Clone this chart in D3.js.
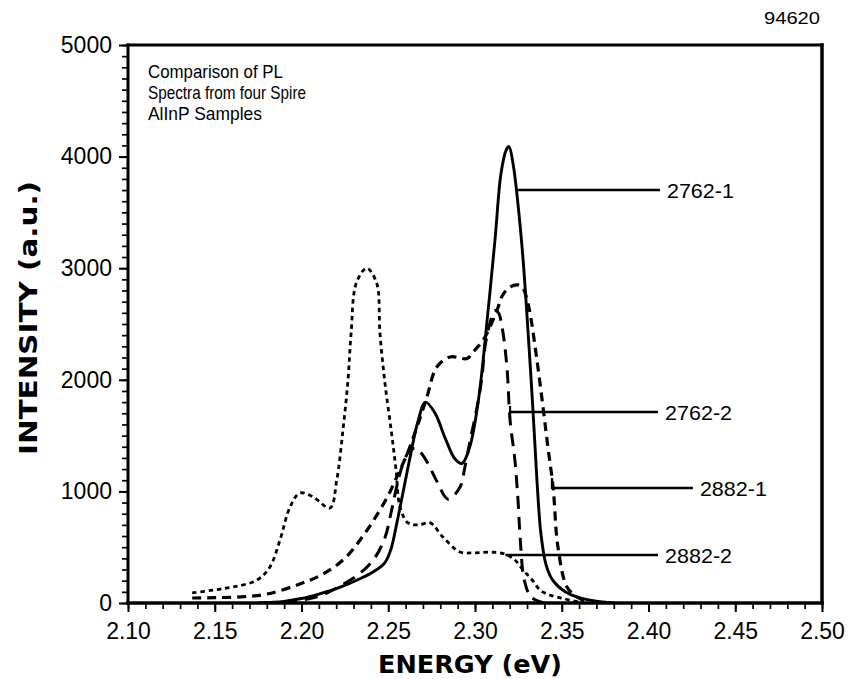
<!DOCTYPE html>
<html><head><meta charset="utf-8">
<script src="https://cdn.jsdelivr.net/npm/d3@7"></script>
<style>body{margin:0;background:#fff}</style>
</head><body>
<svg id="chart" width="851" height="679"></svg>
<script>
// ---------- data ----------
const xTickValues = [2.10, 2.15, 2.20, 2.25, 2.30, 2.35, 2.40, 2.45, 2.50];
const yTickValues = [0, 1000, 2000, 3000, 4000, 5000];

// 2762-1 (solid)
const s27621E = [2.175, 2.19, 2.20, 2.21, 2.222, 2.234, 2.242, 2.248, 2.2515, 2.255, 2.2585, 2.2625, 2.267, 2.2715, 2.277, 2.283, 2.2885, 2.2925, 2.297, 2.302, 2.307, 2.3115, 2.315, 2.318, 2.3196, 2.322, 2.3248, 2.3277, 2.3305, 2.3334, 2.3357, 2.338, 2.341, 2.345, 2.352, 2.3605, 2.369, 2.38];
const s27621I = [0, 15, 40, 80, 140, 220, 285, 360, 480, 720, 990, 1300, 1620, 1800, 1700, 1470, 1290, 1250, 1400, 1820, 2535, 3250, 3850, 4060, 4090, 3930, 3570, 3080, 2450, 1730, 1100, 620, 340, 200, 100, 45, 18, 0];

// 2762-2 (long dash)
const s27622E = [2.19, 2.21, 2.222, 2.234, 2.242, 2.248, 2.2515, 2.255, 2.2585, 2.262, 2.265, 2.268, 2.2725, 2.278, 2.2845, 2.2914, 2.2942, 2.2975, 2.3012, 2.304, 2.3058, 2.309, 2.3115, 2.3135, 2.3156, 2.3184, 2.3202, 2.323, 2.3248, 2.326, 2.3285, 2.3325, 2.34];
const s27622I = [0, 60, 150, 270, 400, 580, 800, 1050, 1250, 1360, 1385, 1360, 1260, 1090, 930, 1040, 1220, 1480, 1755, 2025, 2300, 2530, 2620, 2600, 2473, 2115, 1640, 1280, 920, 590, 200, 50, 0];

// 2882-1 (medium dash)
const s28821E = [2.137, 2.15, 2.165, 2.18, 2.199, 2.2125, 2.225, 2.2345, 2.2415, 2.2495, 2.255, 2.261, 2.2666, 2.272, 2.278, 2.2856, 2.2914, 2.2954, 2.30, 2.3058, 2.3127, 2.316, 2.32, 2.3248, 2.3277, 2.33, 2.3317, 2.3357, 2.3392, 2.342, 2.345, 2.3478, 2.353, 2.3588, 2.366];
const s28821I = [45, 48, 55, 80, 170, 260, 400, 580, 740, 950, 1130, 1340, 1580, 1830, 2115, 2205, 2195, 2190, 2267, 2383, 2625, 2760, 2830, 2850, 2820, 2715, 2600, 2177, 1756, 1398, 1040, 502, 143, 54, 0];

// 2882-2 (dotted)
const s28822E = [2.137, 2.149, 2.1605, 2.1744, 2.1818, 2.1876, 2.1934, 2.199, 2.2066, 2.2164, 2.2203, 2.2239, 2.2268, 2.2286, 2.2316, 2.2376, 2.2433, 2.2452, 2.2481, 2.2519, 2.2545, 2.2568, 2.2614, 2.268, 2.274, 2.2816, 2.2914, 2.300, 2.310, 2.317, 2.323, 2.3277, 2.333, 2.3375, 2.343, 2.352, 2.362];
const s28822I = [90, 116, 143, 206, 323, 565, 860, 985, 952, 851, 1100, 1550, 2000, 2419, 2867, 3000, 2867, 2419, 1971, 1523, 1190, 860, 717, 700, 720, 590, 457, 450, 455, 440, 385, 296, 206, 116, 72, 36, 0];

const seriesNames = ["2762-1", "2762-2", "2882-1", "2882-2"];
const leaderStartE = [2.3242, 2.3202, 2.3444, 2.3175];
const leaderI = [3700, 1711, 1030, 430];
const leaderEndE = [2.4066, 2.4055, 2.4256, 2.4055];

const noteLines = ["Comparison of PL", "Spectra from four Spire", "AlInP Samples"];
const figureId = "94620";
const xTitle = "ENERGY (eV)";
const yTitle = "INTENSITY (a.u.)";

// ---------- chart ----------
const svg = d3.select("#chart");
const L = 128, R = 822, T = 45, B = 603;
const x = d3.scaleLinear().domain([2.10, 2.50]).range([L, R]);
const y = d3.scaleLinear().domain([0, 5000]).range([B, T]);
const labelFont = "'Liberation Sans', Arial, sans-serif";

svg.append("defs").append("clipPath").attr("id", "clip")
  .append("rect").attr("x", L).attr("y", T).attr("width", R - L).attr("height", B - T);

// minor ticks
const xMinor = d3.range(0, 41).map(i => 2.10 + i * 0.01);
const yMinor = d3.range(0, 51).map(i => i * 100);

svg.append("g").attr("transform", `translate(0,${B})`)
  .call(d3.axisBottom(x).tickValues(xMinor).tickSize(6).tickFormat(""))
  .call(g => g.select(".domain").remove())
  .call(g => g.selectAll("line").attr("stroke", "#000").attr("stroke-width", 1.7));
svg.append("g").attr("transform", `translate(${L},0)`)
  .call(d3.axisLeft(y).tickValues(yMinor).tickSize(6).tickFormat(""))
  .call(g => g.select(".domain").remove())
  .call(g => g.selectAll("line").attr("stroke", "#000").attr("stroke-width", 1.7));

// major ticks + labels
svg.append("g").attr("transform", `translate(0,${B})`)
  .call(d3.axisBottom(x).tickValues(xTickValues).tickSize(9).tickPadding(11).tickFormat(d3.format(".2f")))
  .call(g => g.select(".domain").remove())
  .call(g => g.selectAll("line").attr("stroke", "#000").attr("stroke-width", 2))
  .call(g => g.selectAll("text").attr("fill", "#000").attr("font-family", labelFont).attr("font-size", 23));
svg.append("g").attr("transform", `translate(${L},0)`)
  .call(d3.axisLeft(y).tickValues(yTickValues).tickSize(9).tickPadding(7).tickFormat(d3.format("d")))
  .call(g => g.select(".domain").remove())
  .call(g => g.selectAll("line").attr("stroke", "#000").attr("stroke-width", 2))
  .call(g => g.selectAll("text").attr("fill", "#000").attr("font-family", labelFont).attr("font-size", 23));

// frame
const frame = svg.append("g").attr("stroke", "#000").attr("stroke-linecap", "square");
frame.append("line").attr("x1", L).attr("x2", R).attr("y1", T).attr("y2", T).attr("stroke-width", 3);
frame.append("line").attr("x1", R).attr("x2", R).attr("y1", T).attr("y2", B).attr("stroke-width", 3.5);
frame.append("line").attr("x1", L).attr("x2", L).attr("y1", T).attr("y2", B).attr("stroke-width", 3);
frame.append("line").attr("x1", L).attr("x2", R).attr("y1", B).attr("y2", B).attr("stroke-width", 3.5);

// curves
const line = d3.line().x(d => x(d[0])).y(d => y(d[1])).curve(d3.curveCatmullRom.alpha(0.5));
const series = [
  { E: s27621E, I: s27621I, dash: null, w: 2.9 },
  { E: s27622E, I: s27622I, dash: "13,8", w: 3 },
  { E: s28821E, I: s28821I, dash: "9,6", w: 3.2 },
  { E: s28822E, I: s28822I, dash: "4.5,3.8", w: 2.8 }
];
const cg = svg.append("g").attr("clip-path", "url(#clip)");
series.forEach(s => {
  cg.append("path")
    .datum(s.E.map((e, i) => [e, s.I[i]]))
    .attr("d", line)
    .attr("fill", "none")
    .attr("stroke", "#000")
    .attr("stroke-width", s.w)
    .attr("stroke-dasharray", s.dash)
    .attr("stroke-linejoin", "round");
});

// leaders + labels
const lg = svg.append("g");
seriesNames.forEach((n, i) => {
  const x0 = x(leaderStartE[i]), x1 = x(leaderEndE[i]), yy = y(leaderI[i]);
  lg.append("line").attr("x1", x0).attr("x2", x1).attr("y1", yy).attr("y2", yy)
    .attr("stroke", "#000").attr("stroke-width", 2.5);
  if (i === 1) {
    lg.append("line").attr("x1", x0).attr("x2", x0).attr("y1", yy - 6).attr("y2", yy + 6)
      .attr("stroke", "#000").attr("stroke-width", 2.2);
  }
  if (i === 2) {
    lg.append("line").attr("x1", x0).attr("x2", x0).attr("y1", yy - 10).attr("y2", yy + 1)
      .attr("stroke", "#000").attr("stroke-width", 2.4);
  }
  lg.append("text").attr("x", x1 + 7).attr("y", yy).attr("dy", "0.36em")
    .attr("font-family", labelFont).attr("font-size", 21).attr("fill", "#000")
    .attr("textLength", 67).attr("lengthAdjust", "spacingAndGlyphs")
    .text(n);
});

// note text
const noteWidths = [135, 158, 114];
noteLines.forEach((t, i) => {
  svg.append("text").attr("x", 148).attr("y", 78 + i * 21)
    .attr("font-family", "'Liberation Sans Narrow', 'Liberation Sans', sans-serif")
    .attr("font-size", 19).attr("fill", "#000")
    .attr("textLength", noteWidths[i]).attr("lengthAdjust", "spacingAndGlyphs")
    .text(t);
});

// figure id
svg.append("text").attr("x", 820).attr("y", 24).attr("text-anchor", "end")
  .attr("font-family", labelFont).attr("font-size", 16).attr("fill", "#000")
  .attr("textLength", 56).attr("lengthAdjust", "spacingAndGlyphs")
  .text(figureId);

// axis titles
svg.append("text").attr("x", 470).attr("y", 673).attr("text-anchor", "middle")
  .attr("font-family", "'DejaVu Sans', sans-serif").attr("font-weight", "bold")
  .attr("font-size", 25).attr("fill", "#000")
  .attr("textLength", 184).attr("lengthAdjust", "spacingAndGlyphs")
  .text(xTitle);
svg.append("text").attr("transform", "translate(37,318) rotate(-90)").attr("text-anchor", "middle")
  .attr("font-family", "'DejaVu Sans', sans-serif").attr("font-weight", "bold")
  .attr("font-size", 25).attr("fill", "#000")
  .attr("textLength", 274).attr("lengthAdjust", "spacingAndGlyphs")
  .text(yTitle);
</script>
</body></html>
